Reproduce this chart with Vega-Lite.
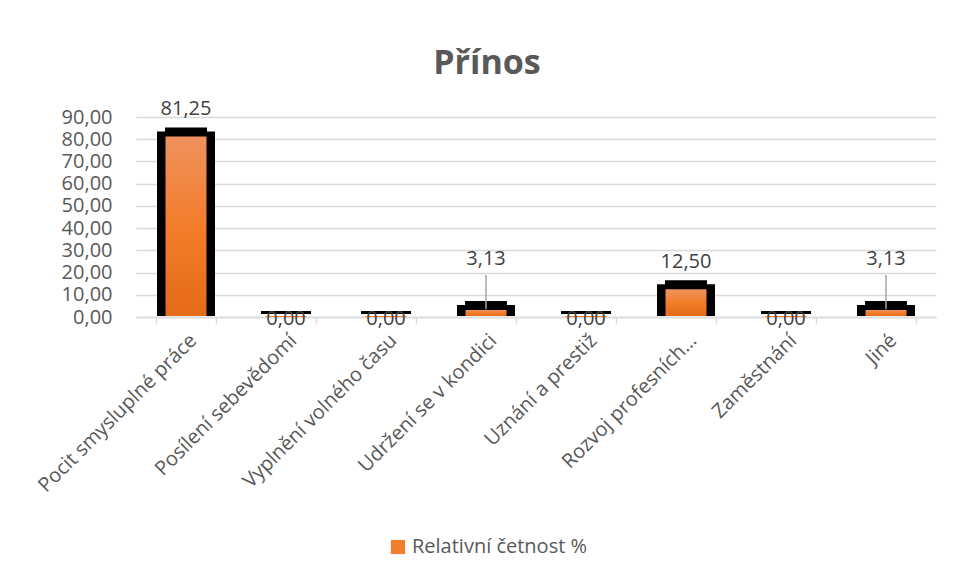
{
  "$schema": "https://vega.github.io/schema/vega-lite/v6.json",
  "autosize": {"type": "none"},
  "width": 800,
  "height": 200,
  "padding": {"left": 136, "top": 117, "right": 19, "bottom": 266},
  "background": "white",
  "title": {
    "text": "Přínos",
    "anchor": "middle",
    "frame": "group",
    "dx": -49,
    "dy": 53,
    "offset": 44,
    "baseline": "alphabetic",
    "font": "Open Sans",
    "fontSize": 34,
    "fontWeight": "bold",
    "color": "#595959"
  },
  "config": {
    "font": "Open Sans",
    "locale": {"number": {"decimal": ",", "thousands": " ", "grouping": [3], "currency": ["", " Kč"]}},
    "view": {"stroke": null},
    "axis": {"labelFont": "Open Sans", "labelColor": "#595959", "labelFontSize": 20, "title": null}
  },
  "data": {
    "values": [
      {"kategorie": "Pocit smysluplné práce", "hodnota": 81.25},
      {"kategorie": "Posílení sebevědomí", "hodnota": 0},
      {"kategorie": "Vyplnění volného času", "hodnota": 0},
      {"kategorie": "Udržení se v kondici", "hodnota": 3.13},
      {"kategorie": "Uznání a prestiž", "hodnota": 0},
      {"kategorie": "Rozvoj profesních…", "hodnota": 12.5},
      {"kategorie": "Zaměstnání", "hodnota": 0},
      {"kategorie": "Jiné", "hodnota": 3.13}
    ]
  },
  "encoding": {
    "x": {
      "field": "kategorie",
      "type": "nominal",
      "sort": ["Pocit smysluplné práce", "Posílení sebevědomí", "Vyplnění volného času", "Udržení se v kondici", "Uznání a prestiž", "Rozvoj profesních…", "Zaměstnání", "Jiné"],
      "scale": {"paddingInner": 0.4, "paddingOuter": 0.2},
      "axis": {
        "labelAngle": -45,
        "labelPadding": 7,
        "domainColor": "#d9d9d9",
        "domainWidth": 1.5,
        "tickBand": "extent",
        "tickColor": "#d9d9d9",
        "tickWidth": 1.5,
        "tickSize": 6,
        "labelLimit": 400
      }
    },
    "y": {
      "field": "hodnota",
      "type": "quantitative",
      "scale": {"domain": [0, 90], "nice": false},
      "axis": {
        "values": [0, 10, 20, 30, 40, 50, 60, 70, 80, 90],
        "format": ".2f",
        "domain": false,
        "ticks": false,
        "labelPadding": 24,
        "gridColor": "#d9d9d9",
        "gridWidth": 1.5
      }
    }
  },
  "layer": [
    {
      "transform": [{"filter": "datum.hodnota > 0"}],
      "mark": {"type": "bar", "color": "black", "width": 58, "yOffset": -5, "y2Offset": -1},
      "encoding": {"y2": {"datum": 0}}
    },
    {
      "transform": [{"filter": "datum.hodnota > 0"}],
      "mark": {"type": "bar", "color": "black", "width": 42, "yOffset": -9, "y2Offset": -1},
      "encoding": {"y2": {"datum": 0}}
    },
    {
      "transform": [{"filter": "datum.hodnota == 0"}],
      "mark": {"type": "bar", "color": "black", "width": 50, "yOffset": -6, "y2Offset": -3},
      "encoding": {"y2": {"datum": 0}}
    },
    {
      "mark": {"type": "bar", "width": 41, "y2Offset": -1, "fill": {"gradient": "linear", "x1": 0, "y1": 0, "x2": 0, "y2": 1, "stops": [{"offset": 0, "color": "#F0915E"}, {"offset": 0.5, "color": "#F37D2B"}, {"offset": 1, "color": "#E46B17"}]}},
      "encoding": {"y2": {"datum": 0}}
    },
    {
      "mark": {"type": "bar", "width": 1, "strokeWidth": 0},
      "encoding": {
        "y": {"datum": 0},
        "y2": {"datum": 0},
        "color": {
          "datum": "Relativní četnost %",
          "scale": {"range": ["#F27E2C"]},
          "legend": {
            "title": null,
            "orient": "none",
            "legendX": 252,
            "legendY": 420,
            "symbolType": "square",
            "symbolSize": 200,
            "symbolStrokeWidth": 0,
            "labelFont": "Open Sans",
            "labelFontSize": 20,
            "labelColor": "#595959",
            "labelLimit": 400
          }
        }
      }
    },
    {
      "transform": [{"filter": "datum.hodnota > 5"}],
      "mark": {"type": "text", "baseline": "alphabetic", "dy": -21, "fontSize": 20, "color": "#404040"},
      "encoding": {"text": {"field": "hodnota", "type": "quantitative", "format": ".2f"}}
    },
    {
      "transform": [{"filter": "datum.hodnota > 0 && datum.hodnota <= 5"}],
      "mark": {"type": "text", "baseline": "alphabetic", "dy": -45, "fontSize": 20, "color": "#404040"},
      "encoding": {"text": {"field": "hodnota", "type": "quantitative", "format": ".2f"}}
    },
    {
      "transform": [{"filter": "datum.hodnota > 0 && datum.hodnota <= 5"}],
      "mark": {"type": "rule", "color": "#a6a6a6", "strokeWidth": 1.5, "yOffset": -35, "y2Offset": -1},
      "encoding": {"y2": {"field": "hodnota"}}
    },
    {
      "transform": [{"filter": "datum.hodnota == 0"}],
      "mark": {"type": "text", "baseline": "alphabetic", "dy": 8, "fontSize": 20, "color": "#404040"},
      "encoding": {"text": {"field": "hodnota", "type": "quantitative", "format": ".2f"}}
    }
  ]
}
